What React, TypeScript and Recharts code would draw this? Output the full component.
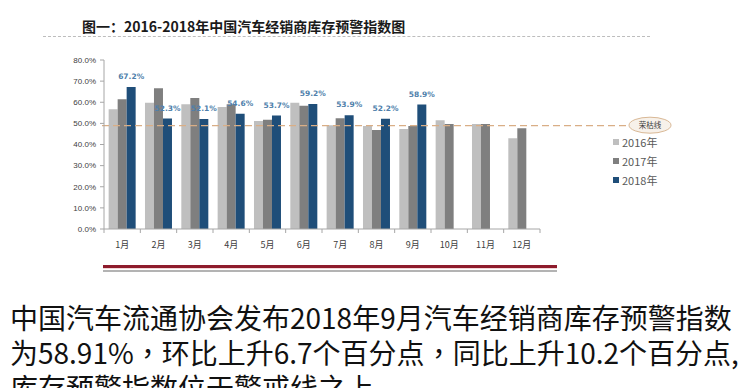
import React from "react";
import {
  BarChart,
  Bar,
  XAxis,
  YAxis,
  LabelList,
  ReferenceLine,
} from "recharts";

// 月份
const months = ["1月", "2月", "3月", "4月", "5月", "6月", "7月", "8月", "9月", "10月", "11月", "12月"];

// 库存预警指数 (%)
const y2016 = [56.7, 59.8, 59.0, 57.8, 51.1, 59.8, 49.1, 48.8, 47.3, 51.5, 49.7, 42.9];
const y2017 = [61.4, 66.6, 62.0, 59.0, 51.7, 58.4, 52.4, 46.9, 48.8, 49.7, 49.7, 47.7];
const y2018 = [67.2, 52.3, 52.1, 54.6, 53.7, 59.2, 53.9, 52.2, 58.9, null, null, null];

const yTicks = [0, 10, 20, 30, 40, 50, 60, 70, 80];
const warnLine = 48.9;

const series = [
  { key: "y2016", name: "2016年", color: "#BFBFBF" },
  { key: "y2017", name: "2017年", color: "#7F7F7F" },
  { key: "y2018", name: "2018年", color: "#1F4E79" },
];

const data = months.map((m, i) => ({
  month: m,
  y2016: y2016[i],
  y2017: y2017[i],
  y2018: y2018[i],
}));

const pct = (v: number) => v.toFixed(1) + "%";

const MonthTick = (props: any) => {
  const { x, y, payload, index, visibleTicksCount } = props;
  const w = props.width || 436;
  const half = w / (visibleTicksCount || 12) / 2;
  const axisY = y - 11;
  return (
    <g>
      <line x1={x - half} x2={x - half} y1={axisY} y2={axisY + 4} stroke="#A6A6A6" />
      {index === months.length - 1 && (
        <line x1={x + half} x2={x + half} y1={axisY} y2={axisY + 4} stroke="#A6A6A6" />
      )}
      <text
        x={x}
        y={y + 8}
        textAnchor="middle"
        fontSize={9}
        fill="#404040"
        fontFamily="'Noto Sans CJK SC', sans-serif"
      >
        {payload.value}
      </text>
    </g>
  );
};

const WarnShape = (props: any) => {
  const { x1, y1, x2 } = props;
  const cx = x2 + 110;
  return (
    <g>
      <line x1={x1 - 2} x2={cx - 21} y1={y1} y2={y1} stroke="#D9AE86" strokeWidth={1.3} strokeDasharray="7 4" />
      <ellipse cx={cx} cy={y1 - 0.5} rx={21} ry={8} fill="#F7F1EA" stroke="#D9B895" strokeWidth={1} />
      <text
        x={cx}
        y={y1 + 2.5}
        textAnchor="middle"
        fontSize={7.5}
        fill="#404040"
        fontFamily="'Noto Sans CJK SC', sans-serif"
      >
        荣枯线
      </text>
    </g>
  );
};

// centred full-width comma, like the original slide font
const Comma = () => <span style={{ fontFamily: "'Noto Sans CJK TC', sans-serif" }}>，</span>;

export default function App() {
  return (
    <div
      style={{
        position: "fixed",
        left: 0,
        top: 0,
        width: 744,
        height: 388,
        background: "#fff",
        overflow: "hidden",
        fontFamily: "'Noto Sans CJK SC', sans-serif",
      }}
    >
      <div
        style={{
          position: "absolute",
          left: 82,
          top: 16,
          fontSize: 14,
          fontWeight: 700,
          color: "#1a1a1a",
          whiteSpace: "nowrap",
          lineHeight: "20px",
        }}
      >
        图一：2016-2018年中国汽车经销商库存预警指数图
      </div>
      <div
        style={{
          position: "absolute",
          left: 43,
          top: 36,
          width: 607,
          borderTop: "1.2px dashed #BDBDBD",
        }}
      />

      <div style={{ position: "absolute", left: 0, top: 0 }}>
        <BarChart
          width={744}
          height={388}
          data={data}
          margin={{ top: 60, right: 204, bottom: 129, left: 0 }}
          barCategoryGap="12.8%"
          barGap={0}
        >
          <XAxis
            dataKey="month"
            height={30}
            axisLine={{ stroke: "#A6A6A6" }}
            tickLine={false}
            tickSize={4}
            tickMargin={7}
            tick={<MonthTick />}
            interval={0}
          />
          <YAxis
            width={104}
            domain={[0, 80]}
            ticks={yTicks}
            tickFormatter={pct}
            axisLine={{ stroke: "#A6A6A6" }}
            tickLine={{ stroke: "#A6A6A6" }}
            tickSize={4}
            tickMargin={4}
            tick={{ fontSize: 8, fill: "#404040", fontFamily: "'Liberation Sans', Arial, sans-serif" }}
          />
          {series.map((s) => (
            <Bar key={s.key} dataKey={s.key} name={s.name} fill={s.color} isAnimationActive={false}>
              {s.key === "y2018" && (
                <LabelList
                  dataKey="y2018"
                  position="top"
                  offset={8}
                  formatter={(v: any) => (v == null ? "" : pct(Number(v)))}
                  style={{
                    fontSize: 7.5,
                    fontWeight: 700,
                    fill: "#4F7FAB",
                    fontFamily: "'DejaVu Sans', sans-serif",
                  }}
                />
              )}
            </Bar>
          ))}
          <ReferenceLine y={warnLine} shape={<WarnShape />} />
        </BarChart>
      </div>

      {series.map((s, i) => (
        <div
          key={s.key}
          style={{
            position: "absolute",
            left: 613,
            top: 134 + i * 19,
            display: "flex",
            alignItems: "center",
            fontSize: 11,
            color: "#595959",
            lineHeight: "16px",
            whiteSpace: "nowrap",
          }}
        >
          <span style={{ width: 6, height: 6, background: s.color, marginRight: 3 }} />
          {s.name}
        </div>
      ))}

      <div style={{ position: "absolute", left: 103, top: 265, width: 454, height: 3, background: "#8E1B2C" }} />
      <div style={{ position: "absolute", left: 103, top: 268, width: 454, height: 1, background: "#F2D6D6" }} />
      <div style={{ position: "absolute", left: 103, top: 270, width: 454, height: 2, background: "#B3B3B3" }} />

      <div
        style={{
          position: "absolute",
          left: 10,
          top: 300,
          fontSize: 28,
          lineHeight: "35px",
          color: "#111",
          whiteSpace: "nowrap",
        }}
      >
        <div>中国汽车流通协会发布2018年9月汽车经销商库存预警指数</div>
        <div>
          为58.91%<Comma />环比上升6.7个百分点<Comma />同比上升10.2个百分点,
        </div>
        <div>库存预警指数位于警戒线之上。</div>
      </div>
    </div>
  );
}
